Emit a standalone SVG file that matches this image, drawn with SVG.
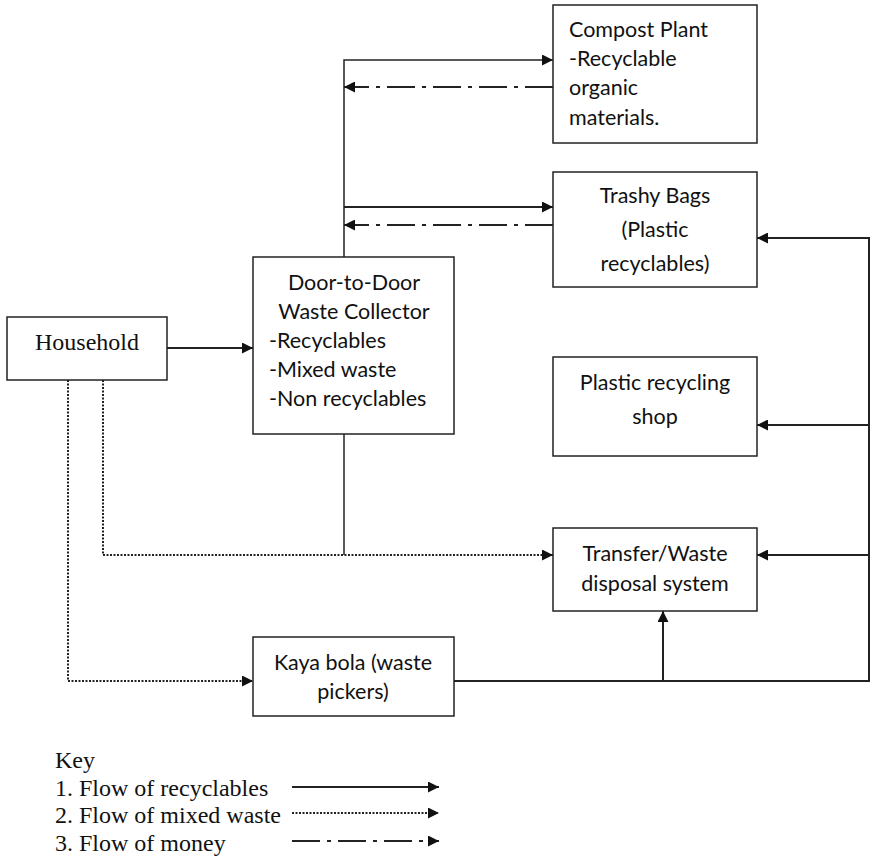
<svg xmlns="http://www.w3.org/2000/svg" width="871" height="858" viewBox="0 0 871 858">
<style>
.box{fill:#fff;stroke:#222;stroke-width:1.5}
.t{font-family:Lato,"Liberation Sans",sans-serif;font-size:21.5px;fill:#111;dominant-baseline:central}
.s{font-family:"Liberation Serif",serif;font-size:24px;fill:#111;dominant-baseline:central}
.c{text-anchor:middle}
.ln{fill:none;stroke:#222;stroke-width:2}
.thin{fill:none;stroke:#222;stroke-width:1.5}
.dot{fill:none;stroke:#222;stroke-width:2;stroke-dasharray:2 1.5}
.money{fill:none;stroke:#222;stroke-width:2;stroke-dasharray:28 7 4 7}
</style>
<defs>
<marker id="ah" viewBox="0 0 10 10" refX="10" refY="5" markerWidth="11" markerHeight="11" markerUnits="userSpaceOnUse" orient="auto">
<path d="M0,0 L10,5 L0,10 z" fill="#111"/>
</marker>
</defs>
<rect width="871" height="858" fill="#fff"/>
<g id="connectors">
<path class="ln" d="M167,348 H253" marker-end="url(#ah)"/>
<path class="thin" d="M344,257 V60 H553" marker-end="url(#ah)"/>
<path class="ln" d="M344,207 H553" marker-end="url(#ah)"/>
<path class="money" d="M553,87 H344" marker-end="url(#ah)"/>
<path class="money" d="M553,225 H344" marker-end="url(#ah)"/>
<path class="thin" d="M344,434 V555"/>
<path class="dot" d="M103,380 V555 H553" marker-end="url(#ah)"/>
<path class="dot" d="M68,380 V681 H253" marker-end="url(#ah)"/>
<path class="ln" d="M454,681 H869 V238 H757" marker-end="url(#ah)"/>
<path class="ln" d="M869,425 H757" marker-end="url(#ah)"/>
<path class="ln" d="M869,555 H757" marker-end="url(#ah)"/>
<path class="ln" d="M663,681 V611" marker-end="url(#ah)"/>
</g>
<g id="compost">
<rect class="box" x="553" y="5" width="204" height="138"/>
<text class="t" x="569" y="29">Compost Plant</text>
<text class="t" x="569" y="58">-Recyclable</text>
<text class="t" x="569" y="87">organic</text>
<text class="t" x="569" y="117">materials.</text>
</g>
<g id="trashy">
<rect class="box" x="553" y="172" width="204" height="115"/>
<text class="t c" x="655" y="195">Trashy Bags</text>
<text class="t c" x="655" y="229">(Plastic</text>
<text class="t c" x="655" y="263">recyclables)</text>
</g>
<g id="household">
<rect class="box" x="7" y="317" width="160" height="63"/>
<text class="s c" x="87" y="342">Household</text>
</g>
<g id="door">
<rect class="box" x="253" y="257" width="201" height="177"/>
<text class="t c" x="354" y="282">Door-to-Door</text>
<text class="t c" x="354" y="311">Waste Collector</text>
<text class="t" x="269" y="340">-Recyclables</text>
<text class="t" x="269" y="369">-Mixed waste</text>
<text class="t" x="269" y="398">-Non recyclables</text>
</g>
<g id="shop">
<rect class="box" x="553" y="357" width="204" height="99"/>
<text class="t c" x="655" y="382">Plastic recycling</text>
<text class="t c" x="655" y="416">shop</text>
</g>
<g id="transfer">
<rect class="box" x="553" y="528" width="204" height="83"/>
<text class="t c" x="655" y="553">Transfer/Waste</text>
<text class="t c" x="655" y="583">disposal system</text>
</g>
<g id="kaya">
<rect class="box" x="253" y="637" width="201" height="79"/>
<text class="t c" x="353" y="662">Kaya bola (waste</text>
<text class="t c" x="353" y="691">pickers)</text>
</g>
<g id="key">
<text class="s" x="55" y="760">Key</text>
<text class="s" x="55" y="788">1. Flow of recyclables</text>
<text class="s" x="55" y="815">2. Flow of mixed waste</text>
<text class="s" x="55" y="843">3. Flow of money</text>
<path class="ln" d="M292,787 H439" marker-end="url(#ah)"/>
<path class="dot" d="M292,813 H439" marker-end="url(#ah)"/>
<path class="money" d="M292,841 H439" marker-end="url(#ah)"/>
</g>
</svg>
